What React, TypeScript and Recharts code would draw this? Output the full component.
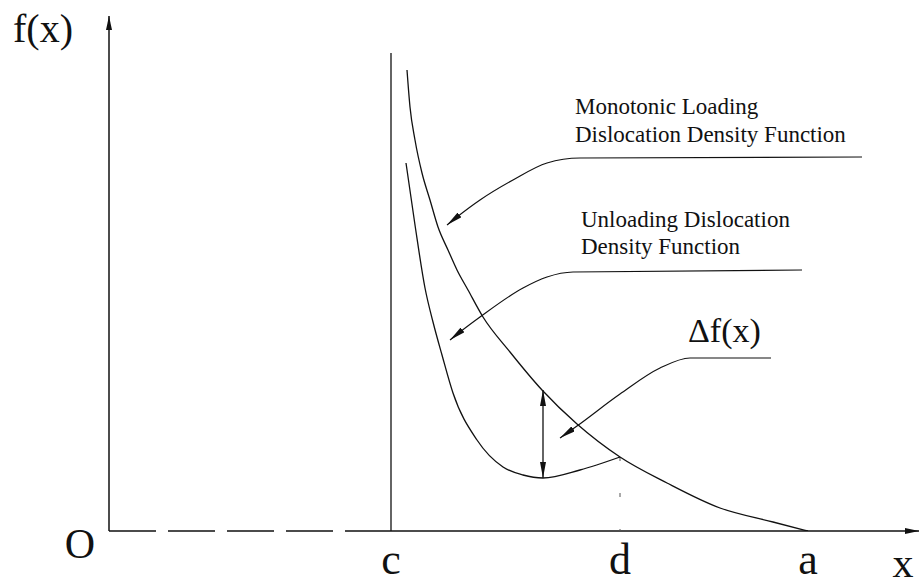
import React from "react";
import {
  LineChart,
  Line,
  XAxis,
  YAxis,
  ReferenceLine,
  ReferenceDot,
} from "recharts";

// positions along x of the marked points c, d, a
const C_X = 2.82;
const D_X = 5.11;
const A_X = 6.99;
const X_MAX = 8.1;
const Y_MAX = 5.15;

const tickValues = [C_X, D_X, A_X];
const tickNames = ["c", "d", "a"];

// monotonic loading dislocation density function
const monotonicX = [2.98, 3.01, 3.06, 3.13, 3.21, 3.29, 3.39, 3.48, 3.59, 3.74, 4.01, 4.33, 4.68, 5.11, 5.58, 6.11, 6.64, 6.99];
const monotonicY = [4.61, 4.24, 3.91, 3.58, 3.31, 3.04, 2.81, 2.61, 2.41, 2.14, 1.79, 1.41, 1.07, 0.74, 0.48, 0.23, 0.09, 0];

// unloading dislocation density function
const unloadingX = [2.97, 3.06, 3.16, 3.24, 3.33, 3.44, 3.68, 3.94, 4.14, 4.34, 4.71, 5.11];
const unloadingY = [3.68, 3.06, 2.43, 2.09, 1.76, 1.38, 0.91, 0.64, 0.56, 0.53, 0.61, 0.74];

// leader lines from the captions to the curves (arrow tip first)
const monoLeaderX = [3.38, 3.48, 3.71, 4.04, 4.38, 4.71, 7.53];
const monoLeaderY = [3.06, 3.14, 3.31, 3.51, 3.68, 3.73, 3.74];
const unloadLeaderX = [3.41, 3.51, 3.71, 4.14, 4.38, 4.64, 6.93];
const unloadLeaderY = [1.91, 1.99, 2.14, 2.43, 2.54, 2.59, 2.61];
const deltaLeaderX = [4.51, 4.68, 5.11, 5.51, 5.81, 6.62];
const deltaLeaderY = [0.93, 1.05, 1.37, 1.63, 1.73, 1.73];

// gap between the curves at the minimum of the unloading curve
const DELTA_X = 4.34;
const DELTA_LOW = 0.53;
const DELTA_HIGH = 1.41;

const zip = (xs: number[], ys: number[]) => xs.map((x, i) => ({ x, y: ys[i] }));

const monotonic = zip(monotonicX, monotonicY);
const unloading = zip(unloadingX, unloadingY);
const monoLeader = zip(monoLeaderX, monoLeaderY);
const unloadLeader = zip(unloadLeaderX, unloadLeaderY);
const deltaLeader = zip(deltaLeaderX, deltaLeaderY);

const SERIF = '"Liberation Serif", "Times New Roman", Times, serif';
const INK = "#111";

function caption(lines: string[], size: number, gap: number, dx = 0, dy = 0, anchor = "start") {
  // eslint-disable-next-line @typescript-eslint/no-explicit-any
  return (props: any) => {
    const { x, y } = props.viewBox;
    return (
      <text
        x={x + dx}
        y={y + dy}
        fontFamily={SERIF}
        fontSize={size}
        fill={INK}
        textAnchor={anchor}
      >
        {lines.map((l, i) => (
          <tspan key={l} x={x + dx} dy={i === 0 ? 0 : gap}>
            {l}
          </tspan>
        ))}
      </text>
    );
  };
}

export default function App() {
  return (
    <div style={{ position: "absolute", left: 0, top: 0, background: "#fff" }}>
      <LineChart
        width={920}
        height={586}
        margin={{ top: 16, right: 1, left: 109, bottom: 0 }}
      >
        <defs>
          <marker
            id="arrowHead"
            viewBox="0 0 16 6"
            refX={16}
            refY={3}
            markerWidth={16}
            markerHeight={6}
            markerUnits="userSpaceOnUse"
            orient="auto-start-reverse"
          >
            <path d="M0,0 L16,3 L0,6 Z" fill={INK} />
          </marker>
          <marker
            id="axisHead"
            viewBox="0 0 14 6"
            refX={14}
            refY={3}
            markerWidth={14}
            markerHeight={6}
            markerUnits="userSpaceOnUse"
            orient="auto"
          >
            <path d="M0,0 L14,3 L0,6 Z" fill={INK} />
          </marker>
        </defs>
        <XAxis
          type="number"
          dataKey="x"
          domain={[0, X_MAX]}
          allowDataOverflow
          ticks={tickValues}
          tickFormatter={(v) => tickNames[tickValues.indexOf(v)] ?? ""}
          axisLine={false}
          tickLine={false}
          tickSize={0}
          tickMargin={12}
          height={55}
          tick={{ fontSize: 44, fontFamily: SERIF, fill: INK }}
        />
        <YAxis type="number" domain={[0, Y_MAX]} allowDataOverflow hide />

        {/* axes */}
        <ReferenceLine
          segment={[{ x: 0, y: 0 }, { x: 0, y: Y_MAX }]}
          stroke={INK}
          strokeWidth={1.5}
          markerEnd="url(#axisHead)"
        />
        <ReferenceLine
          segment={[{ x: 0, y: 0 }, { x: C_X, y: 0 }]}
          stroke={INK}
          strokeWidth={1.5}
          strokeDasharray="47 12"
        />
        <ReferenceLine
          segment={[{ x: C_X, y: 0 }, { x: X_MAX, y: 0 }]}
          stroke={INK}
          strokeWidth={1.5}
          markerEnd="url(#axisHead)"
        />
        <ReferenceLine
          segment={[{ x: C_X, y: 0 }, { x: C_X, y: 4.78 }]}
          stroke={INK}
          strokeWidth={1.3}
        />
        <ReferenceLine
          segment={[{ x: D_X, y: 0.74 }, { x: D_X, y: 0 }]}
          stroke="#555"
          strokeWidth={1}
          strokeDasharray="4 32"
        />
        <ReferenceLine
          segment={[{ x: DELTA_X, y: DELTA_LOW }, { x: DELTA_X, y: DELTA_HIGH }]}
          stroke={INK}
          strokeWidth={1.3}
          markerStart="url(#arrowHead)"
          markerEnd="url(#arrowHead)"
        />

        {/* density functions */}
        <Line data={monotonic} dataKey="y" type="monotone" stroke={INK} strokeWidth={1.3} dot={false} activeDot={false} isAnimationActive={false} />
        <Line data={unloading} dataKey="y" type="monotone" stroke={INK} strokeWidth={1.3} dot={false} activeDot={false} isAnimationActive={false} />

        {/* leaders */}
        <Line data={monoLeader} dataKey="y" type="monotone" stroke={INK} strokeWidth={1.2} dot={false} activeDot={false} isAnimationActive={false} markerStart="url(#arrowHead)" />
        <Line data={unloadLeader} dataKey="y" type="monotone" stroke={INK} strokeWidth={1.2} dot={false} activeDot={false} isAnimationActive={false} markerStart="url(#arrowHead)" />
        <Line data={deltaLeader} dataKey="y" type="monotone" stroke={INK} strokeWidth={1.2} dot={false} activeDot={false} isAnimationActive={false} markerStart="url(#arrowHead)" />

        {/* captions and axis names */}
        <ReferenceDot x={4.66} y={4.17} r={0} label={caption(["Monotonic Loading", "Dislocation Density Function"], 23, 28)} />
        <ReferenceDot x={4.72} y={3.04} r={0} label={caption(["Unloading Dislocation", "Density Function"], 23, 27)} />
        <ReferenceDot x={5.79} y={1.89} r={0} label={caption(["Δf(x)"], 34, 0)} />
        <ReferenceDot x={0} y={Y_MAX} r={0} label={caption(["f(x)"], 40, 0, -96, 26)} />
        <ReferenceDot x={0} y={0} r={0} label={caption(["O"], 42, 0, -29, 27, "middle")} />
        <ReferenceDot x={7.94} y={0} r={0} label={caption(["x"], 42, 0, 0, 46, "middle")} />
      </LineChart>
    </div>
  );
}
